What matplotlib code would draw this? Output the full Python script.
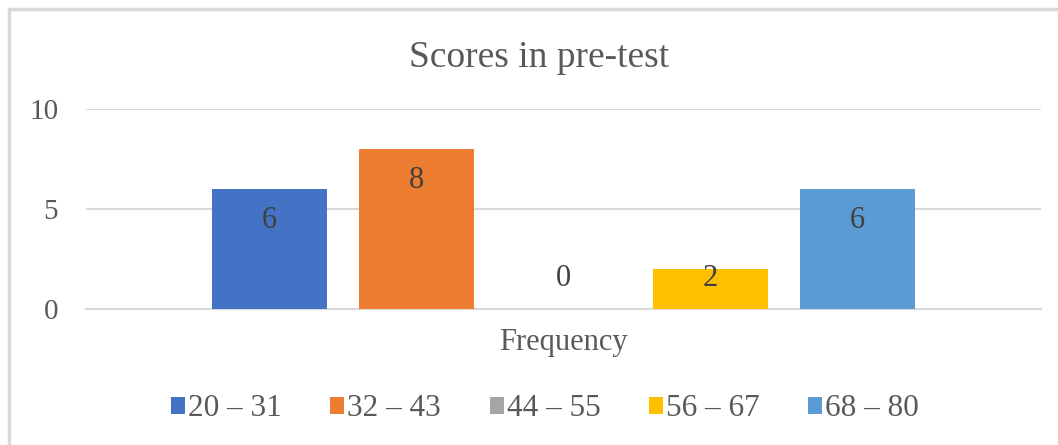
import matplotlib.pyplot as plt
from matplotlib.patches import Rectangle

# frequency of pre-test scores per score band
bands = ["20 – 31", "32 – 43", "44 – 55", "56 – 67", "68 – 80"]
counts = [6, 8, 0, 2, 6]
category = "Frequency"
colors = ["#4472C4", "#ED7D31", "#A5A5A5", "#FFC000", "#5B9BD5"]

plt.rcParams["font.family"] = ["Liberation Serif", "DejaVu Serif"]
text_color = "#595959"
grid_color = "#D9D9D9"

fig = plt.figure(figsize=(10.58, 4.45), dpi=100)
ax = fig.add_axes([86 / 1058, 136 / 445, 955 / 1058, 200 / 445])

# clustered bars around the single category
width = 0.1204
step = 0.154
bars = []
for i, (band, n, c) in enumerate(zip(bands, counts, colors)):
    x = (i - 2) * step
    b = ax.bar(x, n, width=width, color=c, label=band, zorder=3)
    bars.append(b)
    # label sits just inside the top of the bar, kept above the baseline
    ylab = max(n - 1.55, 1.5)
    ax.text(x, ylab, str(n), ha="center", va="center", fontsize=22,
            color="#404040", zorder=4)

ax.set_xlim(-0.5, 0.5)
ax.set_ylim(0, 10)
ax.set_yticks([0, 5, 10])
ax.set_xticks([0], [category])
ax.yaxis.grid(True, color=grid_color, linewidth=1.5, zorder=0)
ax.set_axisbelow(True)
for s in ["top", "right", "left"]:
    ax.spines[s].set_visible(False)
ax.spines["bottom"].set_color(grid_color)
ax.spines["bottom"].set_linewidth(1.5)
ax.tick_params(axis="y", length=0, pad=20, labelsize=21, labelcolor=text_color)
ax.tick_params(axis="x", length=0, pad=14, labelsize=22, labelcolor=text_color)

fig.text(539 / 1058, 1 - 67 / 445, "Scores in pre-test", ha="center",
         va="baseline", fontsize=27, color=text_color)

fig.legend(handles=bars, labels=bands, loc="center", ncol=5,
           bbox_to_anchor=(545 / 1058, 1 - 409 / 445), frameon=False,
           fontsize=22.5, labelcolor=text_color, handlelength=0.45,
           handleheight=0.45, handletextpad=0.1, columnspacing=1.55)

# chart area border
fig.patches.append(Rectangle((8.5 / 1058, -0.1), 1.2, 1.1 - 9.5 / 445,
                             transform=fig.transFigure, fill=False,
                             edgecolor=grid_color, linewidth=2.5))

fig.savefig("out.png", dpi=100)
